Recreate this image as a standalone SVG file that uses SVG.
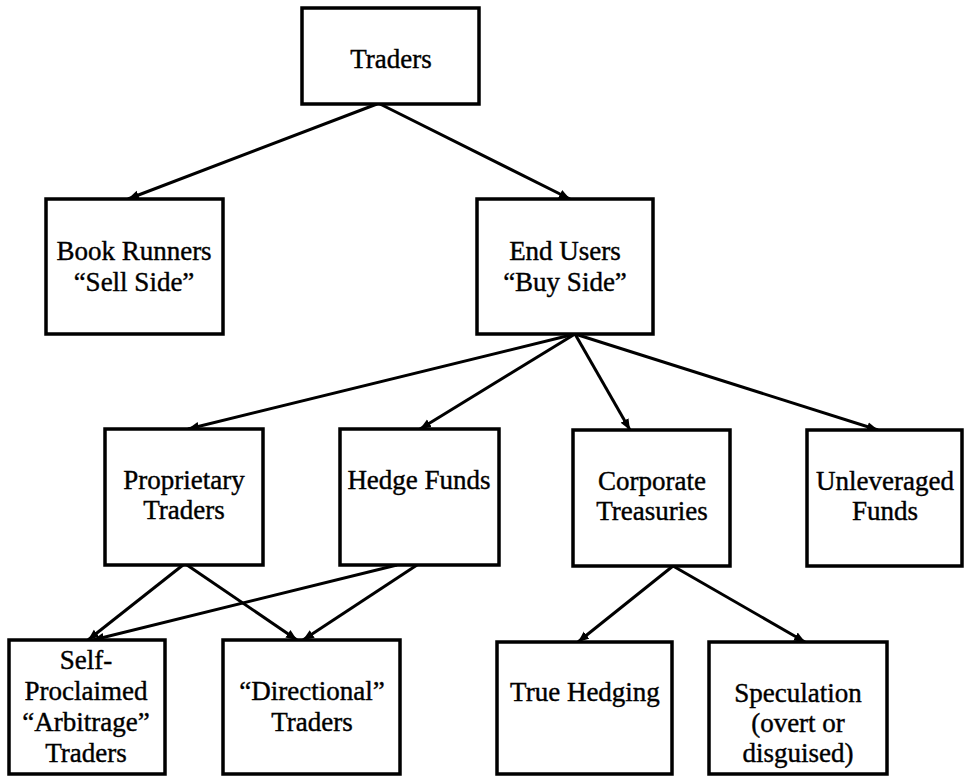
<svg xmlns="http://www.w3.org/2000/svg" width="965" height="777" viewBox="0 0 965 777">
<style>
.box{fill:#fff;stroke:#000;stroke-width:3.5}
.t{font-family:"Liberation Serif","Times New Roman",serif;font-size:27px;fill:#000;stroke:#000;stroke-width:0.4;text-anchor:middle}
.c{stroke:#000;stroke-width:3;fill:none;marker-end:url(#ah)}
</style>
<defs>
<marker id="ah" markerUnits="userSpaceOnUse" markerWidth="12" markerHeight="10" refX="11" refY="5" orient="auto">
<path d="M0,0.5 L11,5 L0,9.5 z" fill="#000"/>
</marker>
</defs>
<rect width="965" height="777" fill="#fff"/>
<g id="connectors">
<line class="c" x1="377" y1="104" x2="128" y2="199"/>
<line class="c" x1="380" y1="104" x2="570" y2="199"/>
<line class="c" x1="575" y1="334" x2="188" y2="429"/>
<line class="c" x1="575" y1="334" x2="420" y2="429"/>
<line class="c" x1="575" y1="334" x2="630" y2="430"/>
<line class="c" x1="575" y1="334" x2="878" y2="430"/>
<line class="c" x1="183" y1="565" x2="88" y2="640"/>
<line class="c" x1="187" y1="565" x2="297" y2="640"/>
<line class="c" x1="397" y1="565" x2="93" y2="640"/>
<line class="c" x1="417" y1="565" x2="303" y2="640"/>
<line class="c" x1="673" y1="566" x2="578" y2="642"/>
<line class="c" x1="673" y1="566" x2="805" y2="642"/>
</g>
<g id="traders"><rect class="box" x="302" y="8" width="177" height="96"/><text class="t" x="391" y="68">Traders</text></g>
<g id="book-runners"><rect class="box" x="46" y="199" width="177" height="135"/><text class="t" x="134" y="260">Book Runners</text><text class="t" x="134" y="291">“Sell Side”</text></g>
<g id="end-users"><rect class="box" x="477" y="199" width="176" height="135"/><text class="t" x="565" y="260">End Users</text><text class="t" x="565" y="291">“Buy Side”</text></g>
<g id="proprietary"><rect class="box" x="105" y="429" width="158" height="136"/><text class="t" x="184" y="489">Proprietary</text><text class="t" x="184" y="519">Traders</text></g>
<g id="hedge-funds"><rect class="box" x="340" y="429" width="159" height="136"/><text class="t" x="419" y="489">Hedge Funds</text></g>
<g id="corporate"><rect class="box" x="573" y="430" width="157" height="136"/><text class="t" x="652" y="490">Corporate</text><text class="t" x="652" y="520">Treasuries</text></g>
<g id="unleveraged"><rect class="box" x="807" y="430" width="155" height="136"/><text class="t" x="885" y="490">Unleveraged</text><text class="t" x="885" y="520">Funds</text></g>
<g id="self-proclaimed"><rect class="box" x="9" y="640" width="156" height="134"/><text class="t" x="86" y="669">Self-</text><text class="t" x="86" y="700">Proclaimed</text><text class="t" x="86" y="731">“Arbitrage”</text><text class="t" x="86" y="762">Traders</text></g>
<g id="directional"><rect class="box" x="223" y="640" width="177" height="134"/><text class="t" x="312" y="700">“Directional”</text><text class="t" x="312" y="731">Traders</text></g>
<g id="true-hedging"><rect class="box" x="497" y="642" width="175" height="132"/><text class="t" x="585" y="701">True Hedging</text></g>
<g id="speculation"><rect class="box" x="709" y="642" width="178" height="132"/><text class="t" x="798" y="702">Speculation</text><text class="t" x="798" y="732">(overt or</text><text class="t" x="798" y="762">disguised)</text></g>
</svg>
